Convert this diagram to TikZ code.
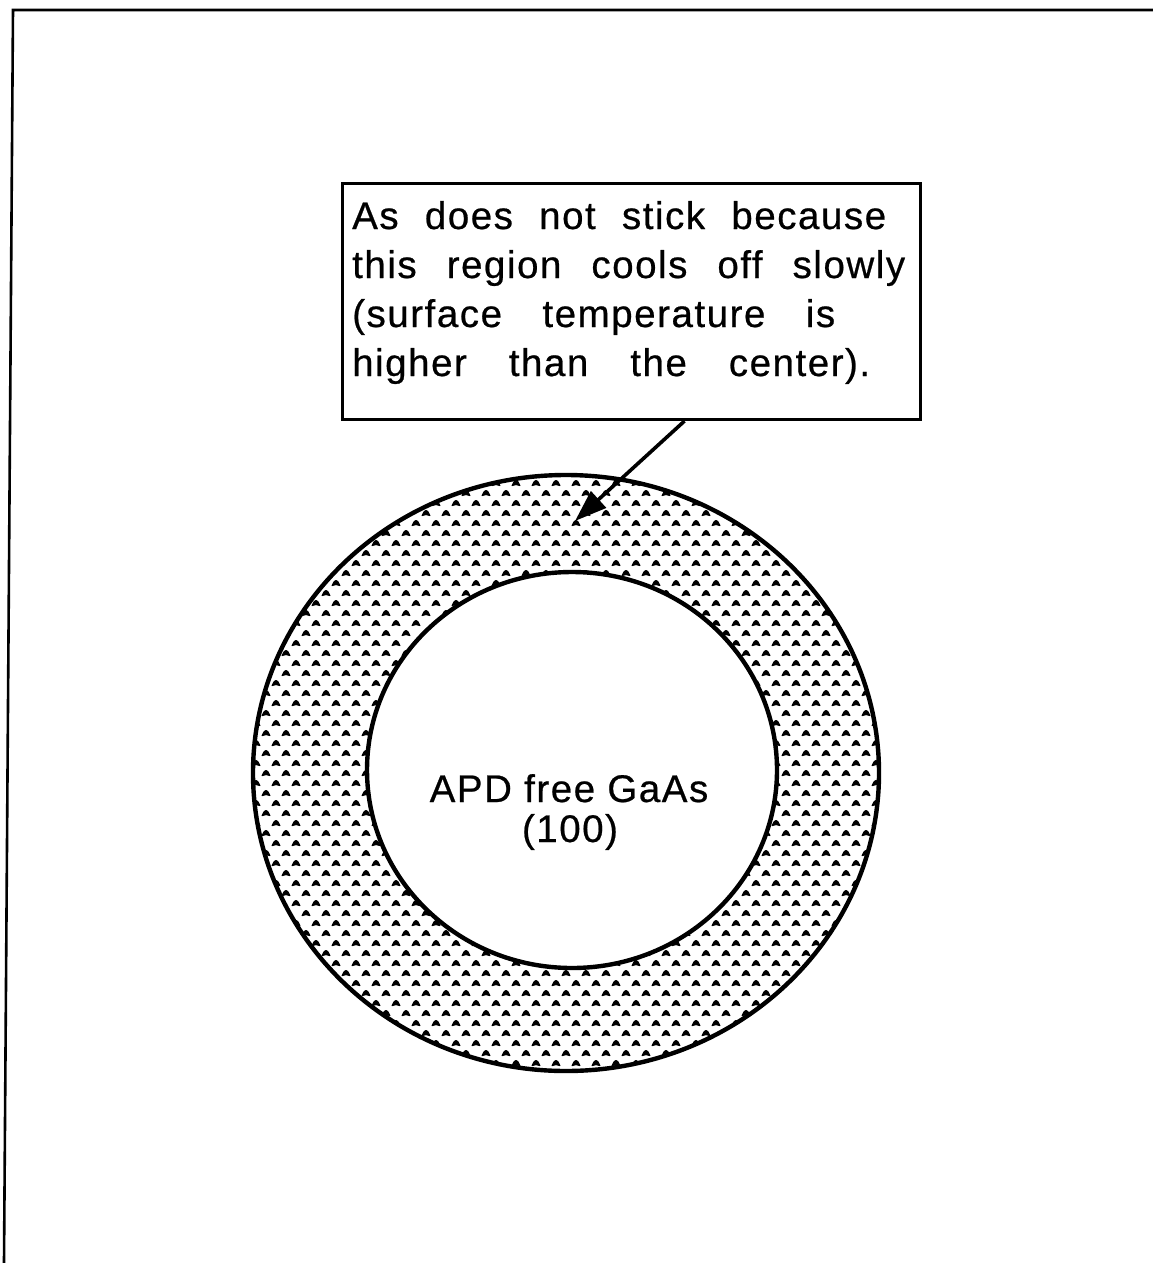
\documentclass[tikz,border=0pt]{standalone}
\usepackage{fontspec}
\setmainfont{Liberation Sans}
\newfontfamily\lbfont[LetterSpace=4,FakeBold=0.6]{Liberation Sans}
\usetikzlibrary{arrows.meta}
\tikzset{
  frameline/.style={line width=2.6pt},
  calloutbox/.style={draw, line width=3pt, rectangle, inner sep=0pt, anchor=north west},
  txt/.style={inner sep=0pt, anchor=base west, font=\lbfont\fontsize{38.5}{40}\selectfont},
  ctxt/.style={inner sep=0pt, anchor=base, font=\lbfont\fontsize{38.5}{40}\selectfont},
  ringline/.style={line width=4.4pt},
  pointer/.style={line width=3.6pt, -{Triangle[length=32pt,width=22pt]}},
  ringdot/.style={line width=1pt, line join=round},
}
\begin{document}
\begin{tikzpicture}[x=1pt,y=-1pt]
\useasboundingbox (0,0) rectangle (1153,1263);
% frame (top and left only)
\draw[frameline] (1153,10) -- (13,10) -- (4,1263);
% dotted ring
\begin{scope}[even odd rule]
  \clip (566,773) ellipse [x radius=313pt, y radius=298pt]
        (572,770) ellipse [x radius=205pt, y radius=198pt];
  \foreach \j in {0,...,61}{
    \foreach \i in {0,...,32}{
      \pgfmathsetmacro{\px}{246+20*\i+10*mod(\j,2)}
      \pgfmathsetmacro{\py}{473+10*\j}
      \filldraw[ringdot] (\px-4,\py+2.6) -- (\px-1.8,\py-1.5) .. controls (\px-1,\py-2.9) and (\px+1,\py-2.9) .. (\px+1.8,\py-1.5) -- (\px+4,\py+2.6) -- (\px,\py+1.6) -- cycle;
    }
  }
\end{scope}
\draw[ringline] (566,773) ellipse [x radius=313pt, y radius=298pt];
\draw[ringline] (572,770) ellipse [x radius=205pt, y radius=198pt];
% callout box
\node[calloutbox, minimum width=578pt, minimum height=236pt] (box) at (341,182) {};
\node[txt] (l1) at (352,229) {\makebox[534pt][s]{As does not stick because}};
\node[txt] (l2) at (352,278) {\makebox[553pt][s]{this region cools off slowly}};
\node[txt] (l3) at (352,327) {\makebox[483pt][s]{(surface temperature is}};
\node[txt] (l4) at (352,376) {\makebox[518pt][s]{higher than the center).}};
% centre label
\node[ctxt] (c1) at (569,802) {APD free GaAs};
\node[ctxt] (c2) at (570,842) {(100)};
% pointer
\coordinate (tip) at (575,521);
\draw[pointer] ([xshift=53pt]box.south) -- (tip);
\end{tikzpicture}
\end{document}
